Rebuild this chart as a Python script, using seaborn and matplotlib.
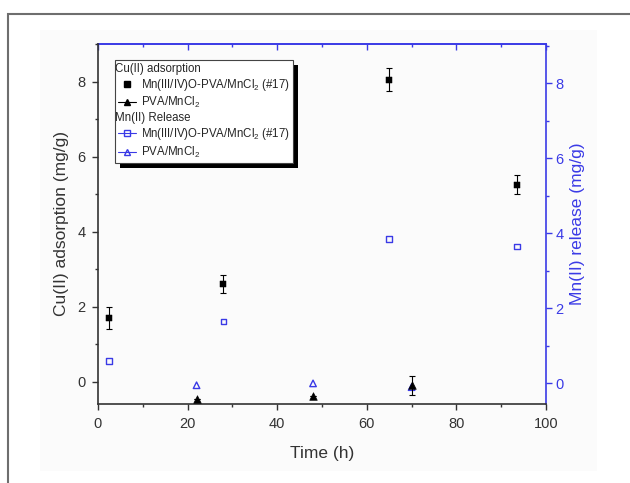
import numpy as np
import pandas as pd
import seaborn as sns
import matplotlib.pyplot as plt
from matplotlib.lines import Line2D
from matplotlib.patches import Rectangle
from matplotlib.transforms import IdentityTransform
from matplotlib.ticker import MultipleLocator

## data
t_mn17 = [2.5, 28, 65, 93.5]
cu_mn17 = [1.7, 2.6, 8.05, 5.25]
cu_mn17_err = [0.3, 0.25, 0.3, 0.25]

t_pva = [22, 48, 70]
cu_pva = [-0.46, -0.38, -0.1]
cu_pva_err = [0.0, 0.0, 0.25]

mn_mn17 = [0.6, 1.65, 3.85, 3.65]
mn_pva = [-0.05, 0.0, -0.1]

blue = "#3a3ae6"
dark = "#333333"

sns.set_style("ticks")
plt.rcParams['font.family'] = ['Liberation Sans', 'DejaVu Sans']
plt.rcParams['mathtext.fontset'] = 'custom'
plt.rcParams['mathtext.rm'] = 'Liberation Sans'

fig = plt.figure(figsize=(6.3, 4.83), dpi=100)
# outer frame of the screenshot + faint panel
fig.patches.append(Rectangle((8/630, -0.05), 1.1, (483-14)/483 + 0.05, transform=fig.transFigure,
                             fill=False, edgecolor="#6e6e6e", linewidth=1.5))
fig.patches.append(Rectangle((40/630, 12/483), 557/630, 441/483, transform=fig.transFigure,
                             facecolor="#fbfbfb", edgecolor="none", zorder=-1))

ax = fig.add_axes([98/630, 79/483, 448/630, 360/483])
ax2 = ax.twinx()

df_cu = pd.DataFrame({"t": t_mn17, "y": cu_mn17})
df_pva = pd.DataFrame({"t": t_pva, "y": cu_pva})
df_mn = pd.DataFrame({"t": t_mn17, "y": mn_mn17})
df_mnp = pd.DataFrame({"t": t_pva, "y": mn_pva})

ax.errorbar(t_mn17, cu_mn17, yerr=cu_mn17_err, fmt="none", ecolor="black", elinewidth=0.8, capsize=2.5, capthick=0.8, zorder=3)
ax.errorbar(t_pva, cu_pva, yerr=cu_pva_err, fmt="none", ecolor="black", elinewidth=0.8, capsize=2.5, capthick=0.8, zorder=3)
sns.scatterplot(data=df_cu, x="t", y="y", marker="s", color="black", s=20, edgecolor="black", ax=ax, zorder=4)
sns.scatterplot(data=df_pva, x="t", y="y", marker="^", color="black", s=30, edgecolor="black", ax=ax, zorder=4,
                clip_on=False)

sns.scatterplot(data=df_mn, x="t", y="y", marker="s", facecolor="none", edgecolor=blue, linewidth=1.0, s=16, ax=ax2)
sns.scatterplot(data=df_mnp, x="t", y="y", marker="^", facecolor="none", edgecolor=blue, linewidth=1.0, s=22, ax=ax2)

ax.set_xlim(0, 100)
ax.set_ylim(-0.6, 9.0)
ax2.set_ylim(-0.55, 9.05)

ax.set_xlabel("Time (h)", fontsize=12.5, color=dark, labelpad=11)
ax.set_ylabel("Cu(II) adsorption (mg/g)", fontsize=12.5, color=dark, labelpad=6)
ax2.set_ylabel("Mn(II) release (mg/g)", fontsize=12.5, color=blue, labelpad=4)

ax.xaxis.set_major_locator(MultipleLocator(20))
ax.xaxis.set_minor_locator(MultipleLocator(10))
ax.yaxis.set_major_locator(MultipleLocator(2))
ax.yaxis.set_minor_locator(MultipleLocator(1))
ax2.yaxis.set_major_locator(MultipleLocator(2))
ax2.yaxis.set_minor_locator(MultipleLocator(1))

ax.tick_params(axis="both", which="major", labelsize=10.5, length=4, width=1, colors=dark, pad=5)
ax.tick_params(axis="both", which="minor", length=2.5, width=1, colors=dark)
ax.tick_params(axis="x", which="both", top=False, labeltop=False)
ax2.tick_params(axis="y", which="major", labelsize=10.5, length=4, width=1, colors=blue, pad=3)
ax2.tick_params(axis="y", which="minor", length=2.5, width=1, colors=blue)

for s in ["left", "bottom"]:
    ax.spines[s].set_color(dark)
    ax.spines[s].set_linewidth(1.2)
for s in ["right", "top"]:
    ax2.spines[s].set_color(blue)
    ax2.spines[s].set_linewidth(1.2)
    ax.spines[s].set_visible(False)
ax2.spines["left"].set_visible(False)
ax2.spines["bottom"].set_visible(False)

# top ticks in blue, pointing inwards
ax3 = ax.secondary_xaxis("top")
ax3.xaxis.set_major_locator(MultipleLocator(20))
ax3.xaxis.set_minor_locator(MultipleLocator(10))
ax3.tick_params(axis="x", which="major", direction="in", length=4, width=1, colors=blue, labeltop=False)
ax3.tick_params(axis="x", which="minor", direction="in", length=2.5, width=1, colors=blue)
ax3.spines["top"].set_color(blue)
ax3.spines["top"].set_linewidth(1.2)

blank = Line2D([], [], linestyle="none", marker="none")
handles = [
    blank,
    Line2D([], [], linestyle="none", marker="s", color="black", markersize=4),
    Line2D([], [], linestyle="-", marker="^", color="black", markersize=5, linewidth=0.8),
    blank,
    Line2D([], [], linestyle="-", marker="s", color=blue, markerfacecolor="none", markersize=5, linewidth=0.8),
    Line2D([], [], linestyle="-", marker="^", color=blue, markerfacecolor="none", markersize=5, linewidth=0.8),
]
labels = [
    "Cu(II) adsorption",
    "Mn(III/IV)O-PVA/MnCl$_2$ (#17)",
    "PVA/MnCl$_2$",
    "Mn(II) Release",
    "Mn(III/IV)O-PVA/MnCl$_2$ (#17)",
    "PVA/MnCl$_2$",
]
leg = ax.legend(handles, labels, loc="upper left", bbox_to_anchor=(0.038, 0.955), fontsize=8.3,
                frameon=True, fancybox=False, framealpha=1,
                handlelength=1.6, handletextpad=0.4, borderpad=0.25, labelspacing=0.18,
                edgecolor="#444444", borderaxespad=0)
leg.get_frame().set_linewidth(0.8)
for i in (0, 3):
    leg.get_texts()[i].set_position((-26, 0))

ax.set_zorder(ax2.get_zorder() + 1)
ax.patch.set_visible(False)
ax2.patch.set_visible(False)

# thick black drop shadow behind legend
fig.canvas.draw()
bb = leg.get_window_extent()
shadow = Rectangle((bb.x0 + 5, bb.y0 - 5), bb.width, bb.height, transform=IdentityTransform(),
                   facecolor="black", edgecolor="none", zorder=leg.get_zorder() - 0.1, clip_on=False)
ax.add_artist(shadow)

fig.savefig("out.png", dpi=100)
